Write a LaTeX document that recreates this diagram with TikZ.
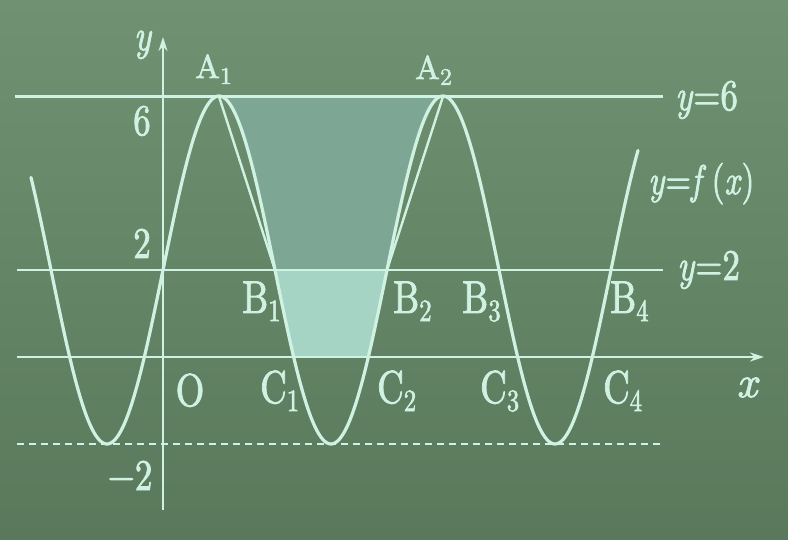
\documentclass[tikz,border=0pt]{standalone}
\usepackage{graphicx}
\usepackage{fontspec}
\setmainfont{lmroman10-regular.otf}[ItalicFont=lmroman10-italic.otf, FakeBold=2]
\usetikzlibrary{arrows.meta}
\definecolor{bgtop}{RGB}{112,145,114}
\definecolor{bgbot}{RGB}{90,121,92}
\definecolor{chalk}{RGB}{208,242,226}
\definecolor{upfill}{RGB}{126,166,148}
\definecolor{lowfill}{RGB}{165,212,196}
\newcommand{\psub}[1]{\raisebox{-7bp}{\fontsize{27bp}{30bp}\selectfont #1}}
\newcommand{\tsub}[1]{\raisebox{-6bp}{\fontsize{24bp}{26bp}\selectfont #1}}
\newcommand{\tall}[1]{\scalebox{0.92}[1.15]{#1}}
\tikzset{
  declare function={fy(\t)=357-43.5*(2+4*sin((\t-163)*1.6071428));},
  chalkline/.style={draw=chalk, line width=2.4bp},
  chordline/.style={draw=chalk, line width=2.4bp, line cap=round},
  curveline/.style={draw=chalk, line width=3.2bp, line cap=round, line join=round},
  axisline/.style={draw=chalk, line width=2.2bp, -{Stealth[length=14bp,width=9bp]}},
  dashline/.style={draw=chalk, line width=2.5bp, dash pattern=on 7bp off 5bp},
  lab/.style={text=chalk, inner sep=0pt, font=\fontsize{38bp}{42bp}\selectfont},
  ptlab/.style={lab, font=\fontsize{40bp}{44bp}\selectfont},
  toplab/.style={lab, font=\fontsize{33bp}{36bp}\selectfont},
}
\begin{document}
\begin{tikzpicture}[x=1bp,y=-1bp]
\shade[top color=bgtop,bottom color=bgbot] (0,0) rectangle (788,540);
\useasboundingbox (0,0) rectangle (788,540);
% key points
\coordinate (A1) at (219,96.5);
\coordinate (A2) at (443,96.5);
\coordinate (B1) at (275,270);
\coordinate (B2) at (387,270);
\coordinate (l6a) at (15,96.5);  \coordinate (l6b) at (663,96.5);
\coordinate (l2a) at (17,270);   \coordinate (l2b) at (663,270);
\coordinate (l0a) at (17,357);   \coordinate (l0b) at (764,357);
\coordinate (lma) at (17,444);   \coordinate (lmb) at (663,444);
\coordinate (ya) at (163,510);   \coordinate (yb) at (163,37);
% shaded regions
\fill[upfill] plot[domain=219:275,samples=40] (\x,{fy(\x)}) -- plot[domain=387:443,samples=40] (\x,{fy(\x)}) -- cycle;
\fill[lowfill] plot[domain=275:293.7,samples=20] (\x,{fy(\x)}) -- plot[domain=368.3:387,samples=20] (\x,{fy(\x)}) -- cycle;
% lines
\draw[chalkline] (l6a) -- (l6b);
\draw[chalkline] (l2a) -- (l2b);
\draw[dashline] (lma) -- (lmb);
\draw[axisline] (l0a) -- (l0b);
\draw[axisline] (ya) -- (yb);
\draw[chordline] (A1) -- (B1);
\draw[chordline] (B2) -- (A2);
% curve
\draw[curveline] plot[domain=31:638,samples=300,smooth] (\x,{fy(\x)});
% labels
\node[lab, anchor=base] (ylab) at (143,50) {\tall{\textit{y}}};
\node[toplab, anchor=base west] (a1) at (195,78) {A\tsub{1}};
\node[toplab, anchor=base west] (a2) at (415,79) {A\tsub{2}};
\node[lab, anchor=base] (six) at (142,135) {\tall{6}};
\node[lab, anchor=base] (two) at (142,258) {\tall{2}};
\node[lab, anchor=base] (mtwo) at (130,490) {\tall{\char"2212 2}};
\node[ptlab, anchor=base] (O) at (190,406) {\tall{O}};
\node[ptlab, anchor=base west] (b1) at (242,313) {\tall{B\psub{1}}};
\node[ptlab, anchor=base west] (c1) at (260,403) {\tall{C\psub{1}}};
\node[ptlab, anchor=base west] (b2) at (393,313) {\tall{B\psub{2}}};
\node[ptlab, anchor=base west] (c2) at (377,403) {\tall{C\psub{2}}};
\node[ptlab, anchor=base west] (b3) at (462,313) {\tall{B\psub{3}}};
\node[ptlab, anchor=base west] (c3) at (480,403) {\tall{C\psub{3}}};
\node[ptlab, anchor=base west] (b4) at (610,313) {\tall{B\psub{4}}};
\node[ptlab, anchor=base west] (c4) at (603,403) {\tall{C\psub{4}}};
\node[lab, anchor=base, font=\fontsize{44bp}{46bp}\selectfont] (xlab) at (748,397) {\textit{x}};
\node[lab, anchor=base west] (y6) at (675,110) {\tall{\textit{y}=6}};
\node[lab, anchor=base west, font=\fontsize{36bp}{40bp}\selectfont] (yf) at (648,194) {\tall{\textit{y}=\textit{f}\,(\textit{x})}};
\node[lab, anchor=base west] (y2) at (677,280) {\tall{\textit{y}=2}};
\end{tikzpicture}
\end{document}
